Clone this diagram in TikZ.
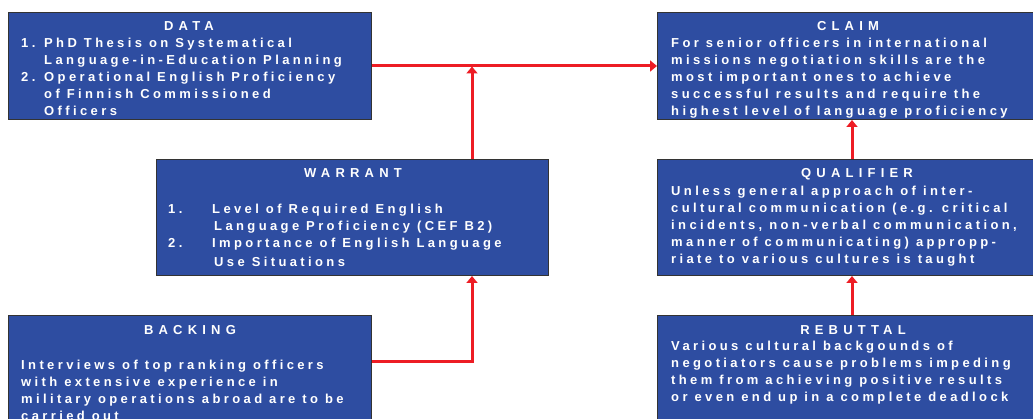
\documentclass[tikz,border=0pt]{standalone}
\usepackage{fontspec}
\setmainfont{Liberation Sans}
\newfontfamily\bodyfont[LetterSpace=26]{Liberation Sans}
\newfontfamily\headfont[LetterSpace=40]{Liberation Sans}
\usetikzlibrary{arrows.meta}

\definecolor{boxblue}{RGB}{46,77,161}
\definecolor{linkred}{RGB}{237,28,36}

% stacked left-aligned lines whose baseline is the first line
\newcommand\textlines[1]{\begin{tabular}[t]{@{}l@{}}#1\end{tabular}}

\tikzset{
  panel/.style={draw=black!80, line width=1pt, fill=boxblue, inner sep=0pt, anchor=north west},
  heading/.style={anchor=base, inner sep=0pt, text=white,
    font=\headfont\bfseries\fontsize{13}{17}\selectfont},
  body/.style={anchor=base west, inner sep=0pt, text=white,
    font=\bodyfont\bfseries\fontsize{13}{17}\selectfont},
  link/.style={draw=linkred, line width=3pt, -{Triangle[width=11pt,length=7pt]}},
}

\begin{document}
\begin{tikzpicture}[x=1pt,y=-1pt]
\useasboundingbox (0,0) rectangle (1033,419);
\clip (0,0) rectangle (1033,419);

% boxes
\node[panel, minimum width=363pt, minimum height=107pt] (data)      at (8,12)    {};
\node[panel, minimum width=400pt, minimum height=107pt] (claim)     at (657,12)  {};
\node[panel, minimum width=392pt, minimum height=116pt] (warrant)   at (156,159) {};
\node[panel, minimum width=400pt, minimum height=116pt] (qualifier) at (657,159) {};
\node[panel, minimum width=363pt, minimum height=130pt] (backing)   at (8,315)   {};
\node[panel, minimum width=400pt, minimum height=130pt] (rebuttal)  at (657,315) {};

% headings
\node[heading] (dataT)      at (189,30.5)  {DATA};
\node[heading] (claimT)     at (848,30.5)  {CLAIM};
\node[heading] (warrantT)   at (353,177.5) {WARRANT};
\node[heading] (qualifierT) at (857,177.5) {QUALIFIER};
\node[heading] (backingT)   at (190,334.5) {BACKING};
\node[heading] (rebuttalT)  at (853,334.5) {REBUTTAL};

% texts
\node[body] (dataB) at (21,47.5) {\textlines{%
  \makebox[23pt][l]{1.}PhD Thesis on Systematical\\
  \hspace*{23pt}Language-in-Education Planning\\
  \makebox[23pt][l]{2.}Operational English Proficiency\\
  \hspace*{23pt}of Finnish Commissioned\\
  \hspace*{23pt}Officers}};

\node[body] (claimB) at (671,47.5) {\textlines{%
  For senior officers in international\\
  missions negotiation skills are the\\
  most important ones to achieve\\
  successful results and require the\\
  highest level of language proficiency}};

\node[body] (warrantB) at (168,213.5) {\textlines{%
  \makebox[44pt][l]{1.}Level of Required English\\
  \hspace*{46pt}Language Proficiency (CEF B2)\\
  \makebox[44pt][l]{2.}Importance of English Language\\[2pt]
  \hspace*{46pt}Use Situations}};

\node[body] (qualifierB) at (671,195.5) {\textlines{%
  Unless general approach of inter-\\
  cultural communication (e.g. critical\\
  incidents, non-verbal communication,\\
  manner of communicating) appropp-\\
  riate to various cultures is taught}};

\node[body] (backingB) at (21,369.5) {\textlines{%
  Interviews of top ranking officers\\
  with extensive experience in\\
  military operations abroad are to be\\
  carried out}};

\node[body] (rebuttalB) at (671,350.5) {\textlines{%
  Various cultural backgounds of\\
  negotiators cause problems impeding\\
  them from achieving positive results\\
  or even end up in a complete deadlock}};

% connectors
\coordinate (wj) at (472,66.5);
\coordinate (bk) at (472,362);
\coordinate (qx) at (852,0);

\draw[link] (data.east) -- (claim.west);
\draw[link] (warrant.north -| wj) -- (wj);
\draw[link] (backing.east |- bk) -- (bk) -- (warrant.south -| bk);
\draw[link] (qualifier.north -| qx) -- (claim.south -| qx);
\draw[link] (rebuttal.north -| qx) -- (qualifier.south -| qx);
\end{tikzpicture}
\end{document}
